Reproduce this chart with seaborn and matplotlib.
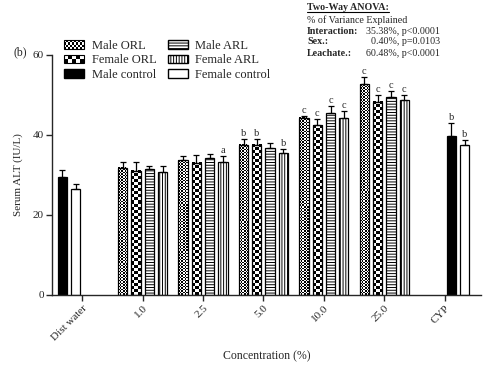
import numpy as np
import pandas as pd
import seaborn as sns
import matplotlib.pyplot as plt
from matplotlib.patches import Patch, Rectangle
from matplotlib.lines import Line2D
from matplotlib.legend_handler import HandlerBase

# data (mean, upper error, significance letter)
groups = ["Dist water", "1.0", "2.5", "5.0", "10.0", "25.0", "CYP"]
conc = ["1.0", "2.5", "5.0", "10.0", "25.0"]

male_orl = [31.8, 33.7, 37.6, 44.3, 52.7]
male_orl_err = [1.4, 1.1, 1.4, 0.5, 1.7]
male_orl_sig = ["", "", "b", "c", "c"]

female_orl = [31.1, 33.1, 37.6, 42.5, 48.3]
female_orl_err = [2.1, 2.0, 1.4, 1.4, 1.7]
female_orl_sig = ["", "", "b", "c", "c"]

male_arl = [31.6, 34.2, 36.8, 45.5, 49.6]
male_arl_err = [0.7, 1.1, 1.3, 1.8, 1.4]
male_arl_sig = ["", "", "", "c", "c"]

female_arl = [30.8, 33.3, 35.6, 44.3, 48.7]
female_arl_err = [1.5, 1.5, 0.8, 1.6, 1.2]
female_arl_sig = ["", "a", "b", "c", "c"]

control_groups = ["Dist water", "CYP"]
male_control = [29.6, 39.7]
male_control_err = [1.6, 3.3]
male_control_sig = ["", "b"]
female_control = [26.5, 37.4]
female_control_err = [1.3, 1.3]
female_control_sig = ["", "b"]

slots = ["s1", "s2", "s3", "s4"]

rows = []
for series, slot, vals, errs, sig in [
    ("Male ORL", "s1", male_orl, male_orl_err, male_orl_sig),
    ("Female ORL", "s2", female_orl, female_orl_err, female_orl_sig),
    ("Male ARL", "s3", male_arl, male_arl_err, male_arl_sig),
    ("Female ARL", "s4", female_arl, female_arl_err, female_arl_sig),
]:
    for g, v, e, s in zip(conc, vals, errs, sig):
        rows.append(dict(group=g, slot=slot, series=series, value=v, err=e, sig=s))
# controls sit in the first two slots for water, last two for CYP
for g, ctrl_slots, i in [("Dist water", ("s1", "s2"), 0), ("CYP", ("s3", "s4"), 1)]:
    rows.append(dict(group=g, slot=ctrl_slots[0], series="Male control",
                     value=male_control[i], err=male_control_err[i], sig=male_control_sig[i]))
    rows.append(dict(group=g, slot=ctrl_slots[1], series="Female control",
                     value=female_control[i], err=female_control_err[i], sig=female_control_sig[i]))
df = pd.DataFrame(rows)

sns.set_style("ticks")
plt.rcParams['font.family'] = ['Liberation Serif', 'DejaVu Serif']
plt.rcParams['hatch.linewidth'] = 0.7

fig = plt.figure(figsize=(4.87, 3.66), dpi=100)
ax = fig.add_axes([52 / 487, 71 / 366, 429 / 487, 240 / 366])

sns.barplot(data=df, x="group", y="value", hue="slot", order=groups, hue_order=slots,
            palette={s: "white" for s in slots}, width=0.88, gap=0.3, errorbar=None,
            edgecolor="black", linewidth=0.9, legend=False, ax=ax)


def checker(nx, ny):
    return np.indices((ny, nx)).sum(axis=0) % 2


for bar in list(ax.patches):
    x0 = bar.get_x()
    w = bar.get_width()
    h = bar.get_height()
    if np.isnan(h) or h == 0:
        continue
    cx = x0 + w / 2
    gi = int(round(cx))
    si = int(round((cx - gi + 0.33) / 0.22))
    r = df[(df.group == groups[gi]) & (df.slot == slots[si])]
    if r.empty:
        continue
    r = r.iloc[0]
    bar.set_zorder(2)
    if r.series == "Male ORL":
        bar.set_facecolor("none")
        ax.imshow(checker(6, int(h * 4 / 1.5)), cmap="gray", vmin=0, vmax=1,
                  extent=(x0, x0 + w, 0, h), aspect="auto", interpolation="nearest", zorder=1)
    elif r.series == "Female ORL":
        bar.set_facecolor("none")
        ax.imshow(checker(3, int(h * 4 / 3)), cmap="gray", vmin=0, vmax=1,
                  extent=(x0, x0 + w, 0, h), aspect="auto", interpolation="nearest", zorder=1)
    elif r.series == "Male ARL":
        bar.set_hatch("------")
    elif r.series == "Female ARL":
        bar.set_hatch("||||||")
    elif r.series == "Male control":
        bar.set_facecolor("black")
    ax.errorbar(cx, h, yerr=[[0], [r.err]], fmt="none", ecolor="black",
                elinewidth=0.9, capsize=2.2, capthick=0.9, zorder=3)
    if r.sig:
        ax.text(cx, h + r.err + 0.3, r.sig, ha="center", va="bottom", fontsize=7.5)

ax.set_xlim(-0.5, 6.6)
ax.set_ylim(0, 60)
ax.set_yticks([0, 20, 40, 60])
sns.despine(ax=ax)
for sp in ["left", "bottom"]:
    ax.spines[sp].set_linewidth(1)
ax.tick_params(axis="both", direction="out", length=4, width=1, labelsize=8, pad=2)
ax.set_xticks(range(len(groups)))
ax.set_xticklabels(groups, rotation=45, ha="right", rotation_mode="anchor")
ax.set_xlabel("Concentration (%)", fontsize=8.5, labelpad=6)
ax.set_ylabel("Serum ALT (IU/L)", fontsize=8, labelpad=7)

fig.text(14 / 487, 1 - 52 / 366, "(b)", fontsize=8.5, va="center")


class CheckerHandler(HandlerBase):
    def __init__(self, nx, ny):
        super().__init__()
        self.nx = nx
        self.ny = ny

    def create_artists(self, legend, orig_handle, xdescent, ydescent, width, height, fontsize, trans):
        x0, y0 = -xdescent, -ydescent
        cw, ch = width / self.nx, height / self.ny
        arts = [Rectangle((x0, y0), width, height, facecolor="white", edgecolor="none", transform=trans)]
        for i in range(self.nx):
            for j in range(self.ny):
                if (i + j) % 2 == 0:
                    arts.append(Rectangle((x0 + i * cw, y0 + j * ch), cw, ch,
                                          facecolor="black", edgecolor="none", transform=trans))
        arts.append(Rectangle((x0, y0), width, height, facecolor="none", edgecolor="black",
                              lw=0.8, transform=trans))
        return arts


h_morl = Patch(facecolor="white", edgecolor="black")
h_forl = Patch(facecolor="white", edgecolor="black")
h_mctl = Patch(facecolor="black", edgecolor="black")
h_marl = Patch(facecolor="white", edgecolor="black", hatch="------")
h_farl = Patch(facecolor="white", edgecolor="black", hatch="||||||")
h_fctl = Patch(facecolor="white", edgecolor="black")
fig.legend([h_morl, h_forl, h_mctl, h_marl, h_farl, h_fctl],
           ["Male ORL", "Female ORL", "Male control", "Male ARL", "Female ARL", "Female control"],
           handler_map={h_morl: CheckerHandler(10, 4), h_forl: CheckerHandler(5, 2)},
           loc="upper left", bbox_to_anchor=(64 / 487, 1 - 40 / 366), ncol=2, frameon=False,
           fontsize=9, borderpad=0, borderaxespad=0, handlelength=1.6, handleheight=0.7,
           handletextpad=0.6, columnspacing=0.9, labelspacing=0.18)

# ANOVA summary box
tx, tr = 307 / 487, 440 / 487
fs = 7.2
ys = [8, 20, 31, 42, 53]
title = fig.text(tx, 1 - ys[0] / 366, "Two-Way ANOVA:", fontsize=fs, fontweight="bold", va="center")
fig.text(tx, 1 - ys[1] / 366, "% of Variance Explained", fontsize=fs, va="center")
anova_labels = ["Interaction:", "Sex.:", "Leachate.:"]
anova_values = ["35.38%, p<0.0001", "0.40%, p=0.0103", "60.48%, p<0.0001"]
for y, lab, val in zip(ys[2:], anova_labels, anova_values):
    fig.text(tx, 1 - y / 366, lab, fontsize=fs, fontweight="bold", va="center")
    fig.text(tr, 1 - y / 366, val, fontsize=fs, va="center", ha="right")

fig.canvas.draw()
bb = title.get_window_extent().transformed(fig.transFigure.inverted())
fig.add_artist(Line2D([bb.x0, bb.x1], [bb.y0 + 0.002, bb.y0 + 0.002], color="black", lw=0.8))

fig.savefig("out.png", dpi=100)
